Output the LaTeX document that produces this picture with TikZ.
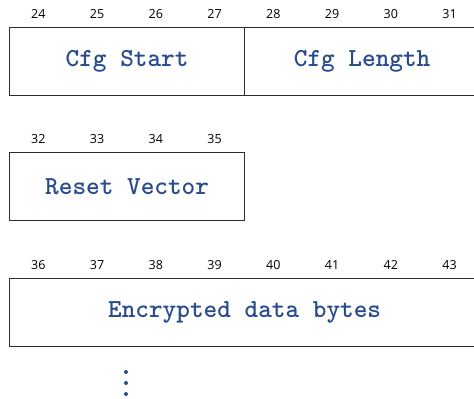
\documentclass[tikz,border=0pt]{standalone}
\usepackage{fontspec}
\newfontfamily\numfont{Open Sans}
\newfontfamily\fieldfont{lmmonolt10-bold.otf}
\definecolor{fieldblue}{RGB}{40,76,140}
\definecolor{frame}{RGB}{45,45,45}
\tikzset{
  field/.style={draw=frame, line width=1.2pt, minimum height=68pt, inner sep=0pt,
    anchor=north west, font=\fieldfont\fontsize{26}{26}\selectfont, text=fieldblue},
  bytenum/.style={font=\numfont\fontsize{12.5}{13}\selectfont, text=black, inner sep=0pt},
  dotmark/.style={fill=fieldblue, draw=none, circle, minimum size=4pt, inner sep=0pt}
}
\begin{document}
\begin{tikzpicture}[x=1pt, y=-1pt]
  \useasboundingbox (0,0) rectangle (474,399);
  \clip (0,0) rectangle (474,399);
  % byte width
  \def\bw{58.75}
  % row 1: configuration start and length
  \node[field, minimum width=235pt] (cfgstart) at (9,27) {Cfg Start};
  \node[field, minimum width=235pt] (cfglen) at (244,27) {Cfg Length};
  \foreach \n [count=\i from 0] in {24,...,31}
    \node[bytenum] (b\n) at ({9+\bw*(\i+0.5)},14) {\n};
  % row 2: reset vector
  \node[field, minimum width=235pt] (reset) at (9,152) {Reset Vector};
  \foreach \n [count=\i from 0] in {32,...,35}
    \node[bytenum] (b\n) at ({9+\bw*(\i+0.5)},139) {\n};
  % row 3: encrypted payload
  \node[field, minimum width=470pt] (payload) at (9,278) {Encrypted data bytes};
  \foreach \n [count=\i from 0] in {36,...,43}
    \node[bytenum] (b\n) at ({9+\bw*(\i+0.5)},265) {\n};
  % continuation marks
  \node[dotmark] (d1) at (126,372) {};
  \node[dotmark] (d2) at (126,383) {};
  \node[dotmark] (d3) at (126,394) {};
\end{tikzpicture}
\end{document}
